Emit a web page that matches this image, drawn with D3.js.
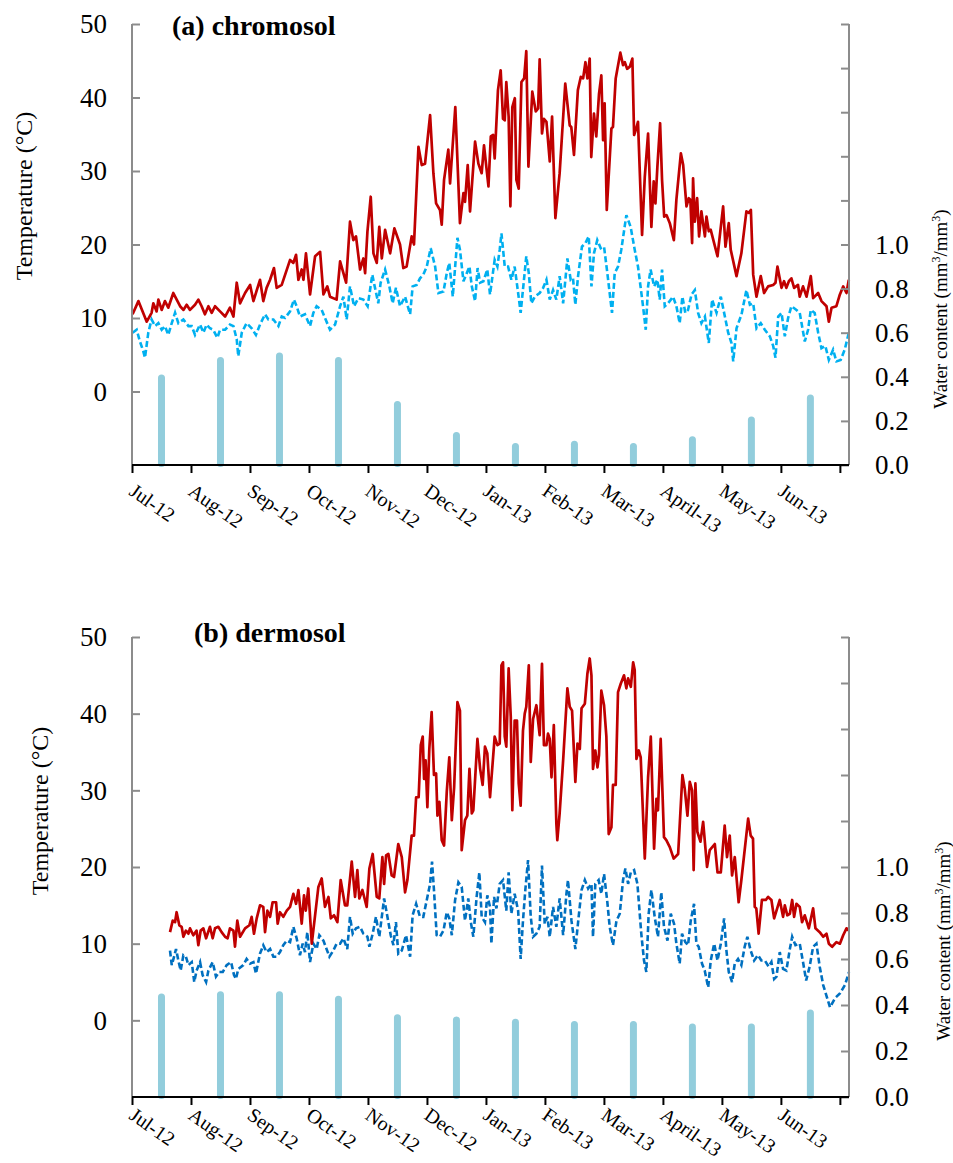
<!DOCTYPE html>
<html lang="en">
<head>
<meta charset="UTF-8">
<title>Soil temperature and water content</title>
<script src="https://d3js.org/d3.v7.min.js"></script>
<style>
  body { margin: 0; background: #fff; }
  svg text { font-family: "Liberation Serif", "Times New Roman", serif; fill: #000; }
</style>
</head>
<body>
<div id="chart"></div>
<script>
// month categories on the x axis
const months = ["Jul-12", "Aug-12", "Sep-12", "Oct-12", "Nov-12", "Dec-12",
                "Jan-13", "Feb-13", "Mar-13", "April-13", "May-13", "Jun-13"];

// monthly water content (mm3/mm3), one bar per month
const chromosolWater = [0.41, 0.49, 0.51, 0.49, 0.29, 0.15, 0.10, 0.11, 0.10, 0.13, 0.22, 0.32];
const dermosolWater  = [0.45, 0.46, 0.46, 0.44, 0.36, 0.35, 0.34, 0.33, 0.33, 0.32, 0.32, 0.38];

// daily temperature, [days since 1 Jul 2012, degC]
const chromosolRed = [[0.3,10.5],[3.3,12.3],[7.6,9.5],[10.1,10.7],[11.0,12.0],[12.7,10.9],[13.6,12.5],[15.3,11.1],[17.0,12.3],[18.7,11.4],[21.3,13.4],[24.8,11.6],[26.5,11.1],[28.2,11.8],[29.9,11.1],[32.5,11.8],[34.2,12.5],[35.9,11.6],[37.6,10.5],[39.4,11.6],[41.1,10.7],[42.8,11.6],[45.4,10.9],[48.0,10.2],[50.5,11.4],[52.3,10.2],[54.0,14.8],[55.7,12.0],[58.3,13.4],[60.9,14.5],[62.6,12.3],[66.0,15.2],[67.7,12.3],[69.4,14.1],[71.2,15.2],[73.2,16.8],[74.6,14.1],[77.2,14.5],[81.5,17.9],[83.2,17.5],[84.6,18.6],[85.8,15.2],[87.5,16.6],[88.4,15.2],[89.7,18.8],[91.8,13.2],[94.4,18.4],[97.0,19.0],[98.7,13.2],[100.7,14.3],[102.1,12.9],[105.5,12.5],[107.3,17.7],[110.4,14.8],[112.4,23.1],[114.1,20.6],[115.5,21.1],[117.6,16.6],[119.3,18.1],[120.2,16.1],[121.4,21.8],[123.1,26.5],[124.5,18.8],[126.2,17.5],[127.5,22.4],[128.8,18.1],[130.5,22.0],[133.1,18.8],[135.3,22.2],[138.2,20.0],[139.9,16.8],[141.6,17.0],[144.2,21.1],[145.4,20.0],[147.7,33.3],[149.4,30.8],[151.1,31.0],[153.7,37.6],[155.4,29.7],[156.8,25.6],[158.8,24.7],[159.7,22.7],[160.9,28.8],[163.1,32.9],[164.0,28.3],[166.7,38.7],[169.1,22.9],[170.9,27.0],[171.7,25.8],[173.1,30.8],[174.3,24.5],[176.9,34.0],[178.6,31.0],[180.3,29.7],[181.5,33.5],[183.8,27.9],
  [185.0,34.7],[186.2,34.9],[187.0,31.7],[188.7,41.0],[190.1,43.7],[191.3,37.1],[192.2,36.9],[193.0,42.1],[194.2,37.4],[195.1,25.2],[196.1,38.7],[197.4,39.9],[198.2,28.8],[199.4,27.6],[200.8,42.1],[202.2,42.6],[203.3,46.3],[204.4,30.6],[206.4,40.8],[208.2,38.1],[209.4,38.5],[210.2,45.2],[211.4,35.1],[212.4,37.1],[213.7,36.7],[215.4,31.3],[216.6,37.4],[218.3,23.6],[220.5,29.7],[223.4,41.9],[225.7,36.2],[226.5,36.0],[227.9,32.2],[229.9,41.0],[231.4,42.8],[232.6,42.6],[233.8,44.8],[234.8,42.6],[236.0,45.3],[236.8,31.9],[238.2,37.8],[239.4,34.7],[240.8,40.5],[242.0,43.0],[242.9,34.2],[243.7,39.2],[244.8,24.7],[247.2,35.8],[248.0,36.0],[249.4,42.6],[250.3,43.9],[251.8,46.1],[253.2,44.4],[254.1,44.8],[255.3,43.9],[256.7,44.2],[258.0,45.3],[258.9,34.9],[259.8,35.6],[260.9,36.7],[263.0,21.3],[264.4,29.2],[266.1,35.1],[267.8,22.4],[269.0,28.6],[269.9,25.6],[270.9,30.6],[272.3,36.5],[273.3,28.8],[274.4,23.8],[275.6,24.0],[277.3,22.9],[279.4,20.6],[280.7,26.1],[283.0,32.4],[284.2,30.8],[285.9,25.2],[287.1,26.3],[287.9,26.1],[288.8,20.2],[289.3,29.0],[290.2,23.1],[291.4,26.3],[292.4,21.1],[293.6,24.5],[295.4,21.1],[296.2,23.8],[297.4,21.8],[298.4,22.0],[301.9,18.4],[304.8,25.2],[306.0,19.7],[307.7,22.9],[308.7,19.3],[311.7,15.7],[314.2,18.8],[316.8,24.5],[318.0,24.3],[319.1,24.7],[320.3,15.9],[322.0,12.9],[324.2,15.7],[325.9,13.4],[328.0,14.3],[330.6,14.5],[331.8,14.8],[332.8,17.0],[334.9,14.1],[336.2,15.0],[337.4,14.1],[338.7,15.0],[340.0,15.4],[341.4,14.1],[343.4,14.5],[344.3,12.9],[346.0,14.3],[347.8,12.9],[350.0,15.7],[351.2,12.7],[353.8,13.4],[355.5,12.3],[358.1,11.6],[359.3,9.5],[360.7,11.4],[363.2,11.6],[365.0,13.2],[366.7,14.3],[368.4,13.4],[369.6,15.2]];

const chromosolBlue = [[0.3,8.0],[2.4,8.4],[4.1,6.8],[5.8,5.5],[6.7,4.6],[8.4,8.0],[10.1,9.8],[11.9,8.9],[13.6,9.3],[15.3,8.4],[17.0,8.9],[18.7,7.7],[20.5,9.3],[22.2,10.7],[23.9,9.3],[26.5,9.8],[29.1,8.9],[30.8,8.9],[32.5,7.7],[35.1,9.1],[36.8,8.0],[38.5,9.1],[40.2,8.6],[41.9,8.4],[44.0,7.3],[45.4,8.4],[48.0,8.4],[50.5,9.1],[52.3,8.9],[54.0,7.1],[54.8,4.8],[56.6,8.0],[59.1,9.3],[61.7,8.6],[63.9,7.7],[66.0,9.1],[68.6,10.5],[70.3,9.8],[72.9,9.8],[75.5,8.9],[77.2,10.2],[78.9,10.0],[81.5,10.9],[83.5,12.5],[84.9,11.6],[86.6,10.2],[89.2,10.5],[91.8,8.9],[93.5,10.7],[95.2,11.6],[97.8,11.1],[99.5,10.0],[102.1,8.4],[104.7,9.1],[107.3,11.6],[109.0,12.9],[110.7,9.8],[112.4,14.3],[114.5,11.6],[116.7,12.7],[119.3,12.5],[121.5,11.6],[123.9,15.9],[125.3,14.1],[127.0,12.0],[128.2,14.8],[130.5,16.6],[132.7,14.3],[134.4,12.0],[136.1,14.1],[138.2,11.6],[140.8,12.9],[143.4,10.5],[144.7,14.3],[146.8,14.5],[148.5,15.4],[150.2,15.9],[152.0,17.0],[154.0,19.5],[156.3,17.0],[158.0,13.4],[160.6,13.6],[162.3,16.1],[163.6,17.5],[165.4,12.9],[167.8,20.9],[169.1,19.3],[170.9,15.0],[172.6,16.1],[174.0,17.0],[175.2,14.3],[176.9,12.3],[178.2,16.8],[179.5,14.8],[181.2,15.0],[183.2,16.6],[184.6,13.2],
  [187.0,17.9],[188.4,17.0],[189.6,19.3],[190.5,21.5],[192.2,17.0],[193.9,17.0],[195.6,15.2],[197.3,17.0],[199.1,13.4],[200.4,10.7],[202.1,15.2],[203.3,18.4],[204.6,16.1],[205.9,12.0],[207.7,12.9],[210.2,13.4],[212.0,14.1],[213.7,15.2],[215.4,12.5],[217.1,13.8],[218.8,12.5],[220.5,15.7],[222.3,12.0],[224.5,18.1],[226.2,15.2],[227.4,15.4],[228.6,11.8],[230.0,15.7],[232.0,19.7],[233.8,20.2],[235.5,21.1],[236.9,14.3],[238.2,18.8],[239.9,20.6],[241.7,19.5],[243.4,19.7],[245.1,16.1],[247.5,10.7],[248.9,16.1],[250.6,17.0],[252.3,19.3],[254.9,24.0],[257.1,22.4],[259.2,19.3],[260.9,17.0],[263.5,11.6],[264.9,8.4],[266.1,14.3],[267.4,16.6],[269.2,14.3],[270.9,15.2],[272.1,12.5],[273.3,16.6],[274.7,11.6],[276.4,12.0],[279.0,12.9],[280.7,11.6],[282.4,9.3],[283.8,12.9],[285.3,10.7],[286.7,11.1],[288.5,13.2],[290.2,13.8],[291.9,10.7],[293.6,9.3],[295.4,10.2],[297.4,6.6],[299.1,12.5],[301.4,10.7],[303.6,12.9],[305.7,10.2],[307.4,8.0],[309.1,6.6],[310.0,4.1],[311.7,8.6],[314.3,10.5],[316.8,13.8],[318.6,11.8],[320.3,12.0],[322.0,8.6],[324.2,9.3],[326.3,8.4],[328.9,7.5],[330.6,6.2],[331.8,4.6],[333.2,10.2],[334.9,10.7],[336.6,7.5],[338.3,10.0],[340.0,11.6],[342.6,11.1],[344.3,10.7],[346.9,6.8],[348.6,8.4],[350.0,11.1],[352.0,10.7],[353.8,8.0],[355.5,5.9],[357.5,6.2],[359.3,4.3],[361.5,5.7],[363.2,4.1],[365.4,4.3],[367.5,5.7],[369.6,8.0]];

const dermosolRed = [[19.6,11.5],[21.0,13.0],[22.2,12.8],[23.0,14.1],[24.4,12.4],[25.6,12.2],[26.5,10.9],[27.8,11.7],[29.1,11.3],[29.9,12.0],[31.6,11.1],[33.3,11.7],[34.2,9.8],[35.4,11.7],[36.8,12.0],[38.2,10.7],[40.2,12.2],[41.6,10.7],[42.8,12.0],[44.5,12.2],[46.2,11.5],[48.0,10.9],[49.3,10.7],[50.5,12.0],[52.3,11.7],[53.1,9.6],[54.3,13.0],[55.7,10.9],[58.3,12.0],[60.5,12.4],[61.7,13.5],[62.9,11.3],[64.3,13.3],[66.0,15.0],[67.7,14.8],[68.6,11.5],[69.8,14.3],[71.2,13.5],[72.5,15.4],[74.3,15.4],[75.1,12.6],[76.3,14.1],[78.0,13.5],[79.8,14.3],[81.5,14.8],[83.2,16.5],[84.6,15.2],[85.8,17.0],[87.5,12.6],[88.7,16.3],[89.6,14.3],[90.9,17.2],[92.7,10.0],[94.4,13.7],[96.1,17.4],[97.8,18.5],[99.5,14.8],[101.3,16.1],[102.5,13.3],[104.2,13.7],[105.9,12.8],[107.6,18.3],[109.8,15.0],[111.0,15.0],[113.3,20.7],[115.0,16.1],[116.2,19.6],[117.2,15.9],[118.8,17.0],[121.0,14.8],[122.4,19.8],[124.1,21.7],[126.2,16.1],[127.5,15.9],[129.1,21.3],[130.0,17.8],[131.0,21.5],[132.2,21.7],[133.9,18.9],[135.1,18.7],[137.3,23.0],[139.1,21.3],[140.8,16.7],[142.0,18.3],[144.2,24.1],[145.4,24.1],[146.5,29.1],[147.8,29.1],[148.9,35.9],[149.9,37.0],[150.6,31.5],[151.4,33.9],[152.3,27.8],[153.3,35.4],[154.5,40.2],[155.7,32.0],[156.8,32.2],[157.5,26.7],[158.5,28.5],[159.7,23.5],[160.9,22.8],[162.3,29.8],[163.6,34.3],[164.9,26.1],[166.1,30.4],[167.8,41.5],[169.1,40.4],[170.0,22.2],[171.7,26.1],[172.9,26.7],[174.0,32.8],[175.2,27.0],[176.0,27.4],[178.1,36.7],[179.5,32.8],[180.8,30.7],[182.0,35.7],[183.2,34.8],[184.6,29.1],
  [187.0,37.0],[188.4,35.9],[189.6,36.1],[190.5,46.3],[191.3,46.7],[192.2,37.0],[193.0,35.7],[194.2,45.9],[195.3,39.6],[196.1,27.4],[197.3,39.1],[198.5,39.1],[199.4,30.9],[200.4,28.0],[201.6,37.8],[202.5,40.0],[203.3,40.9],[204.6,46.3],[205.6,33.7],[206.8,39.3],[208.5,41.1],[210.2,37.2],[211.4,46.5],[212.4,35.9],[213.7,35.9],[214.5,37.4],[215.4,36.7],[216.3,31.7],[217.5,38.5],[218.8,25.7],[219.3,23.5],[220.5,27.0],[222.3,33.9],[224.5,43.3],[225.7,40.9],[226.9,40.4],[228.6,31.1],[229.7,36.1],[230.9,35.4],[231.8,40.7],[233.5,41.3],[234.8,45.2],[236.0,47.2],[236.9,45.0],[237.7,32.8],[238.9,35.2],[240.0,33.0],[240.8,34.6],[242.0,43.0],[243.4,41.1],[244.6,37.0],[245.8,24.3],[247.2,25.2],[248.0,30.7],[249.4,30.7],[250.6,42.8],[252.0,43.9],[253.7,45.0],[254.9,43.3],[255.8,44.6],[257.2,43.5],[258.4,46.7],[259.2,45.7],[260.1,34.1],[261.3,35.2],[262.3,34.3],[264.4,21.1],[266.1,31.7],[267.5,37.0],[269.2,22.4],[270.4,28.9],[271.2,27.4],[272.6,36.7],[274.3,23.9],[275.5,23.5],[277.3,22.6],[279.3,21.1],[281.6,21.7],[283.8,32.0],[285.0,30.2],[286.4,26.7],[287.6,31.1],[288.8,30.0],[289.6,19.6],[290.5,30.9],[291.5,24.6],[293.1,23.3],[294.5,25.9],[296.5,20.0],[297.9,22.2],[300.5,23.0],[301.9,19.3],[303.6,19.3],[305.6,25.4],[306.8,21.3],[308.2,24.1],[309.4,18.9],[310.8,21.3],[312.8,15.4],[314.2,18.3],[317.7,26.3],[319.0,24.1],[320.2,23.7],[321.1,14.8],[321.9,14.6],[323.1,11.3],[324.8,15.7],[326.8,15.7],[328.0,16.1],[329.7,15.7],[331.1,13.3],[334.0,15.7],[335.7,13.5],[336.6,15.0],[337.9,13.7],[339.2,13.9],[340.4,15.7],[341.4,13.5],[342.6,15.2],[344.3,14.8],[345.5,12.8],[346.9,13.7],[349.0,12.0],[351.2,14.6],[352.4,12.0],[354.6,11.5],[356.4,10.9],[358.1,11.3],[359.3,10.0],[361.0,9.6],[363.2,10.2],[365.0,10.0],[366.7,11.1],[368.4,12.0],[369.6,11.7]];

const dermosolBlue = [[19.6,9.1],[20.5,7.2],[21.7,8.3],[22.7,9.3],[23.9,7.8],[25.1,6.5],[26.5,8.5],[27.8,8.3],[29.1,7.2],[30.8,7.6],[32.1,5.0],[33.3,6.5],[35.1,7.6],[36.4,5.9],[38.2,5.0],[39.4,6.5],[41.6,7.6],[43.3,5.7],[45.0,6.3],[46.8,6.3],[48.8,7.2],[51.1,7.6],[52.6,5.9],[53.6,5.4],[54.8,6.7],[57.4,7.2],[59.1,8.0],[60.9,7.4],[62.6,7.6],[63.9,6.1],[66.0,8.7],[67.7,9.8],[69.4,8.9],[71.2,9.3],[72.9,8.3],[74.6,8.3],[76.3,8.9],[78.0,9.8],[79.8,10.4],[81.5,10.2],[83.2,12.2],[84.9,10.7],[86.6,8.5],[88.0,10.0],[89.2,8.9],[90.4,11.5],[91.8,7.6],[93.5,10.0],[95.2,9.3],[96.6,11.1],[98.7,10.4],[101.8,8.3],[103.8,9.1],[105.5,10.0],[107.3,10.0],[109.0,10.7],[111.0,9.3],[112.4,13.5],[113.8,11.3],[115.5,12.0],[117.6,12.2],[119.3,11.3],[121.4,10.9],[122.4,9.6],[124.1,11.3],[125.8,13.5],[127.5,10.9],[130.0,15.9],[131.7,13.5],[133.4,11.1],[134.8,9.8],[136.1,12.8],[137.3,8.7],[139.1,9.1],[141.3,11.1],[143.4,8.3],[144.7,13.7],[146.5,15.2],[148.5,13.5],[150.2,13.5],[152.0,15.7],[153.7,17.8],[154.7,20.7],[155.7,17.0],[157.1,11.1],[158.8,10.9],[160.6,11.7],[162.3,14.1],[163.6,13.3],[164.9,11.1],[166.6,15.7],[168.3,18.0],[170.0,17.4],[171.7,13.0],[173.4,15.9],[174.7,12.8],[176.0,10.9],[177.7,16.1],[179.1,19.3],[180.3,13.5],[182.0,12.8],[183.2,16.3],[184.6,14.8],
  [185.3,10.0],[186.7,16.1],[187.9,14.6],[189.6,17.8],[191.3,18.3],[193.0,14.3],[194.2,19.3],[195.6,13.9],[197.3,16.5],[199.1,14.3],[200.4,8.0],[201.6,13.0],[202.8,17.0],[204.2,20.9],[205.6,13.5],[206.8,10.9],[208.5,11.3],[210.2,12.2],[211.4,20.2],[212.8,12.6],[214.2,13.5],[215.4,10.9],[217.1,14.8],[218.8,12.2],[220.5,15.9],[222.3,11.1],[224.0,16.5],[224.8,18.3],[226.6,13.0],[228.6,9.3],[230.3,13.5],[231.8,17.0],[233.5,18.3],[235.2,17.2],[236.9,17.8],[237.7,10.9],[238.9,17.8],[240.6,18.3],[242.0,16.5],[243.4,19.1],[245.1,15.4],[246.3,12.2],[248.0,9.8],[249.8,13.0],[251.5,13.9],[253.2,18.3],[254.4,19.8],[255.8,17.8],[257.2,19.3],[258.9,19.6],[260.6,17.8],[262.6,11.3],[264.0,7.8],[265.2,6.3],[266.4,13.9],[267.8,17.0],[269.5,13.5],[271.2,10.9],[272.9,16.7],[274.3,12.2],[276.1,10.4],[277.8,13.9],[279.5,12.6],[280.7,10.0],[282.4,7.4],[283.6,11.3],[285.3,10.2],[286.7,9.8],[288.1,13.0],[289.8,15.2],[291.0,10.0],[292.2,9.6],[293.9,7.4],[295.3,6.5],[297.1,4.3],[298.4,7.8],[300.2,10.0],[301.9,7.8],[303.6,10.0],[305.3,13.3],[306.5,9.1],[307.7,6.3],[309.4,5.0],[310.8,7.4],[312.5,8.0],[314.2,7.2],[315.9,9.6],[317.3,10.9],[319.0,9.1],[320.8,7.8],[322.8,8.5],[324.5,7.8],[326.3,7.8],[328.3,7.0],[329.7,7.6],[331.1,5.4],[332.3,5.7],[334.0,8.9],[335.7,6.7],[337.4,6.5],[339.2,9.3],[340.4,10.9],[342.1,9.8],[344.3,10.0],[346.0,7.6],[347.6,5.2],[349.4,7.0],[351.2,9.6],[352.9,10.0],[354.6,7.0],[356.4,4.6],[359.9,1.7],[362.5,2.9],[365.0,3.5],[367.6,4.6],[369.7,6.3]];

const tempTicks  = [0, 10, 20, 30, 40, 50];
const waterTicks = [0, 0.2, 0.4, 0.6, 0.8, 1.0, 1.2, 1.4, 1.6, 1.8, 2.0];
const waterLabelMax = 1.0;

const daysPerMonth = 365 / 12;
const serif = '"Liberation Serif", "Times New Roman", serif';

const svg = d3.select("#chart").append("svg")
    .attr("width", 953)
    .attr("height", 1163)
    .attr("font-family", serif);

const x = d3.scaleLinear().domain([0, 369.7]).range([132, 849]);

const panels = [
  { title: "(a) chromosol", titleX: 172, titleY: 35, top: 24, bottom: 465, labelDy: 29,
    red: chromosolRed, blue: chromosolBlue, blueColor: "#00b0f0", water: chromosolWater,
    yLabel: [32, 196], wLabel: [947, 309] },
  { title: "(b) dermosol", titleX: 194, titleY: 642, top: 637, bottom: 1097, labelDy: 21,
    red: dermosolRed, blue: dermosolBlue, blueColor: "#0070c0", water: dermosolWater,
    yLabel: [48, 811], wLabel: [950, 941] }
];

panels.forEach(function (p) {
  const y = d3.scaleLinear().domain([-10, 50]).range([p.bottom, p.top]);
  const yR = d3.scaleLinear().domain([0, 2.0]).range([p.bottom, p.top]);
  const g = svg.append("g");

  // water content bars (mid month)
  g.selectAll("rect.bar")
    .data(p.water)
    .join("rect")
    .attr("class", "bar")
    .attr("x", (d, i) => x(i * daysPerMonth + daysPerMonth / 2) - 3.5)
    .attr("width", 7)
    .attr("y", d => yR(d))
    .attr("height", d => yR(0) - yR(d) + 2)
    .attr("rx", 3.5)
    .style("fill", "#92cddc");

  const line = d3.line()
    .x(d => x(d[0]))
    .y(d => y(d[1]));

  g.append("path")
    .datum(p.blue)
    .attr("d", line)
    .style("fill", "none")
    .style("stroke", p.blueColor)
    .style("stroke-width", 2.6)
    .style("stroke-dasharray", "6,3");

  g.append("path")
    .datum(p.red)
    .attr("d", line)
    .style("fill", "none")
    .style("stroke", "#c00000")
    .style("stroke-width", 2.7)
    .style("stroke-linejoin", "round");

  // left axis
  const left = g.append("g").attr("transform", `translate(132,0)`)
    .call(d3.axisRight(y).tickValues(tempTicks).tickSize(8).tickFormat(""));
  left.select(".domain").attr("d", `M0,${p.top}V${p.bottom}`);
  left.selectAll("path, line").style("stroke", "#8c8c8c").style("stroke-width", 2);
  g.selectAll("text.tl")
    .data(tempTicks)
    .join("text")
    .attr("class", "tl")
    .attr("x", 107)
    .attr("y", d => y(d))
    .attr("dy", "0.35em")
    .attr("text-anchor", "end")
    .attr("font-family", serif)
    .style("font-size", "27px")
    .text(d => d);

  // right axis
  const right = g.append("g").attr("transform", `translate(849,0)`)
    .call(d3.axisLeft(yR).tickValues(waterTicks).tickSize(8).tickFormat(""));
  right.select(".domain").attr("d", `M0,${p.top}V${p.bottom}`);
  right.selectAll("path, line").style("stroke", "#8c8c8c").style("stroke-width", 2);
  g.selectAll("text.tr")
    .data(waterTicks.filter(d => d <= waterLabelMax + 1e-9))
    .join("text")
    .attr("class", "tr")
    .attr("x", 875)
    .attr("y", d => yR(d))
    .attr("dy", "0.35em")
    .attr("font-family", serif)
    .style("font-size", "27px")
    .text(d => d3.format(".1f")(d));

  // bottom axis
  const bottom = g.append("g").attr("transform", `translate(0,${p.bottom})`)
    .call(d3.axisBottom(x).tickValues(d3.range(13).map(i => i * daysPerMonth)).tickSize(8).tickFormat(""));
  bottom.select(".domain").attr("d", "M132,0H849");
  bottom.selectAll("path, line").style("stroke", "#000").style("stroke-width", 2);

  g.selectAll("text.month")
    .data(months)
    .join("text")
    .attr("class", "month")
    .attr("transform", (d, i) => `translate(${x(i * daysPerMonth) - 4},${p.bottom + p.labelDy}) rotate(35)`)
    .attr("font-family", serif)
    .style("font-size", "20px")
    .text(d => d);

  g.append("text")
    .attr("x", p.titleX)
    .attr("y", p.titleY)
    .attr("font-family", serif)
    .style("font-size", "28px")
    .style("font-weight", "bold")
    .text(p.title);

  g.append("text")
    .attr("transform", `translate(${p.yLabel[0]},${p.yLabel[1]}) rotate(-90)`)
    .attr("text-anchor", "middle")
    .attr("font-family", serif)
    .style("font-size", "24px")
    .text("Temperature (°C)");

  const w = g.append("text")
    .attr("transform", `translate(${p.wLabel[0]},${p.wLabel[1]}) rotate(-90)`)
    .attr("text-anchor", "middle")
    .attr("font-family", serif)
    .style("font-size", "19px");
  w.append("tspan").text("Water content (mm");
  w.append("tspan").attr("baseline-shift", "super").style("font-size", "12px").text("3");
  w.append("tspan").text("/mm");
  w.append("tspan").attr("baseline-shift", "super").style("font-size", "12px").text("3");
  w.append("tspan").text(")");
});
</script>
</body>
</html>
